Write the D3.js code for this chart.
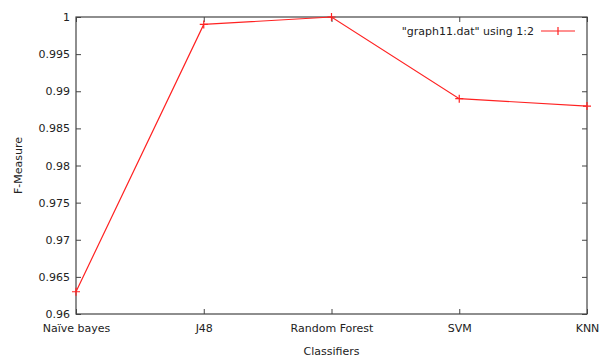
<!DOCTYPE html>
<html>
<head>
<meta charset="utf-8">
<script src="https://cdn.jsdelivr.net/npm/d3@7"></script>
<style>
  body { margin: 0; background: #fff; }
  text { font-family: "DejaVu Sans", sans-serif; font-size: 11px; fill: #222; }
</style>
</head>
<body>
<script>
var width = 606,
    height = 360;

var classifiers = ["Naïve bayes", "J48", "Random Forest", "SVM", "KNN"];
var fMeasure = [0.963, 0.999, 1.0, 0.989, 0.988];
var yTicks = [0.96, 0.965, 0.97, 0.975, 0.98, 0.985, 0.99, 0.995, 1];
var legendLabel = "\"graph11.dat\" using 1:2";

var margin = {left: 76, right: 19, top: 17, bottom: 46};

var x = d3.scalePoint()
    .domain(classifiers)
    .range([margin.left, width - margin.right]);

var y = d3.scaleLinear()
    .domain([0.96, 1])
    .range([height - margin.bottom, margin.top]);

var svg = d3.select("body").append("svg")
    .attr("width", width)
    .attr("height", height);

var border = "#444";

// ticks, inward on all four sides
var axes = svg.append("g").attr("class", "axes");

axes.append("g")
  .attr("transform", "translate(0," + y(0.96) + ")")
  .call(d3.axisBottom(x).tickSizeInner(-5).tickSizeOuter(0).tickPadding(10))
  .call(g => g.select(".domain").remove());

axes.append("g")
  .attr("transform", "translate(0," + y(1) + ")")
  .call(d3.axisTop(x).tickSizeInner(-5).tickSizeOuter(0).tickFormat(""))
  .call(g => g.select(".domain").remove());

axes.append("g")
  .attr("transform", "translate(" + x.range()[0] + ",0)")
  .call(d3.axisLeft(y).tickValues(yTicks).tickSizeInner(-5).tickSizeOuter(0).tickPadding(6)
    .tickFormat(d3.format("")))
  .call(g => g.select(".domain").remove());

axes.append("g")
  .attr("transform", "translate(" + x.range()[1] + ",0)")
  .call(d3.axisRight(y).tickValues(yTicks).tickSizeInner(-5).tickSizeOuter(0).tickFormat(""))
  .call(g => g.select(".domain").remove());

axes.selectAll(".tick line").attr("stroke", border);
axes.selectAll(".tick text").style("font-family", "DejaVu Sans, sans-serif").style("font-size", "11px").attr("fill", "#222");

svg.append("rect")
  .attr("x", x.range()[0])
  .attr("y", y(1))
  .attr("width", x.range()[1] - x.range()[0])
  .attr("height", y(0.96) - y(1))
  .attr("fill", "none")
  .attr("stroke", border)
  .attr("stroke-width", 1.2);

// the series
var pts = classifiers.map(function(c, i) { return {name: c, value: fMeasure[i]}; });

var line = d3.line()
  .x(d => x(d.name))
  .y(d => y(d.value));

svg.append("path")
  .datum(pts)
  .attr("d", line)
  .attr("fill", "none")
  .attr("stroke", "#f22")
  .attr("stroke-width", 1.2);

svg.append("g").selectAll("path.pt")
  .data(pts)
  .enter().append("path")
  .attr("class", "pt")
  .attr("d", function(d) {
    var cx = x(d.name), cy = y(d.value);
    return "M" + (cx - 4) + "," + cy + "H" + (cx + 4) + "M" + cx + "," + (cy - 4) + "V" + (cy + 4);
  })
  .attr("stroke", "#f22")
  .attr("stroke-width", 1.2);

// legend
var legend = svg.append("g").attr("transform", "translate(534,31)");
legend.append("text")
  .attr("text-anchor", "end")
  .attr("dy", ".35em")
  .text(legendLabel);
legend.append("path")
  .attr("d", "M7,0H41M24,-4V4")
  .attr("stroke", "#f22")
  .attr("stroke-width", 1.2);

// axis titles
svg.append("text")
  .attr("x", (x.range()[0] + x.range()[1]) / 2)
  .attr("y", 355)
  .attr("text-anchor", "middle")
  .text("Classifiers");

svg.append("text")
  .attr("transform", "translate(22," + ((y(1) + y(0.96)) / 2) + ") rotate(-90)")
  .attr("text-anchor", "middle")
  .text("F-Measure");
</script>
</body>
</html>
